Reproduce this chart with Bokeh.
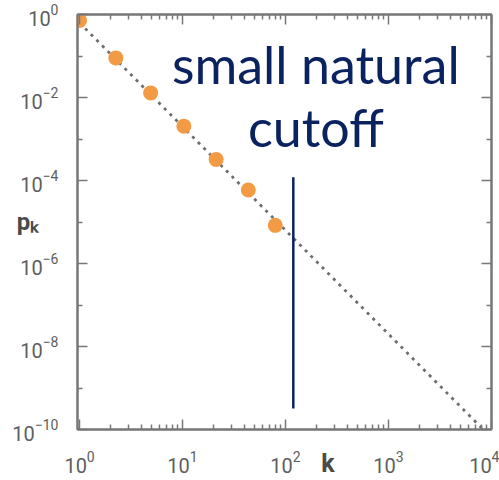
from bokeh.plotting import figure
from bokeh.models import FixedTicker, LogAxis, Label, CustomJSTickFormatter
from bokeh.embed import file_html
from bokeh.resources import INLINE

# binned degree distribution
k_vals = [1.0, 2.25, 4.9, 10.3, 21.2, 43.5, 79.5]
pk_vals = [0.72, 0.090, 0.0129, 0.00204, 0.00032, 0.000059, 0.0000083]

# power-law guide, p_k ~ k^-2.5
fit_k = [1.0, 10000.0]
fit_pk = [0.63, 6.3e-11]

# natural cutoff marker at k_max
cutoff_k = [119.0, 119.0]
cutoff_pk = [1.2e-4, 3.2e-10]

# ticks
x_major = [1, 10, 100, 1000, 10000]
x_minor = [m * 10 ** d for d in range(4) for m in range(2, 10)]
y_major = [1e-10, 1e-8, 1e-6, 1e-4, 1e-2, 1.0]
y_minor = [1e-9, 1e-7, 1e-5, 1e-3, 1e-1]

AXIS_GRAY = "#777777"
LABEL_GRAY = "#5e5e5e"
TITLE_GRAY = "#4a4a4a"
NAVY = "#0a225f"
ORANGE = "#f39a45"
NBSP = "\u00a0"

p = figure(
    width=499, height=480,
    x_axis_type="log", y_axis_type="log",
    x_range=(0.955, 10000), y_range=(1e-10, 1.0),
    output_backend="svg", toolbar_location=None,
    min_border_left=77, min_border_right=8,
    min_border_top=14, min_border_bottom=50,
)
p.grid.visible = False
p.outline_line_color = AXIS_GRAY
p.outline_line_width = 2
p.background_fill_color = "white"
p.border_fill_color = "white"

x_ticker = FixedTicker(ticks=x_major, minor_ticks=x_minor)
y_ticker = FixedTicker(ticks=y_major, minor_ticks=y_minor)
blank = CustomJSTickFormatter(code="return ''")


def style_axis(ax, labels=True):
    ax.axis_line_color = AXIS_GRAY
    ax.axis_line_width = 2
    ax.major_tick_line_color = AXIS_GRAY
    ax.minor_tick_line_color = AXIS_GRAY
    ax.major_tick_line_width = 1.5
    ax.minor_tick_line_width = 1.5
    ax.major_tick_out = 0
    ax.minor_tick_out = 0
    ax.major_tick_in = 10
    ax.minor_tick_in = 5
    if labels:
        ax.major_label_text_font = "Roboto"
        ax.major_label_text_font_size = "20px"
        ax.major_label_text_color = LABEL_GRAY
        ax.axis_label_text_font = "Roboto"
        ax.axis_label_text_font_style = "bold"
        ax.axis_label_text_color = TITLE_GRAY
    else:
        ax.formatter = blank
        ax.major_label_standoff = 0


# bottom axis: "k" sits in the tick-label row, right of centre
xa = p.xaxis[0]
xa.ticker = x_ticker
style_axis(xa)
xa.major_label_standoff = 21
xa.axis_label = NBSP * 14 + "k"
xa.axis_label_text_font_size = "25px"
xa.axis_label_standoff = -27

# left axis: horizontal "p_k" between the tick labels
ya = p.yaxis[0]
ya.ticker = y_ticker
style_axis(ya)
ya.major_label_standoff = 19
ya.axis_label = "p\u2096"
ya.axis_label_text_font_size = "24px"
ya.axis_label_orientation = "horizontal"
ya.axis_label_standoff = -29

top = LogAxis(ticker=x_ticker)
style_axis(top, labels=False)
p.add_layout(top, "above")

right = LogAxis(ticker=y_ticker)
style_axis(right, labels=False)
p.add_layout(right, "right")

# power-law guide
p.line(fit_k, fit_pk, line_color="#6e6e6e", line_width=2.8,
       line_dash="3 5", line_cap="butt")

# measured points
p.scatter(k_vals, pk_vals, size=15, fill_color=ORANGE, line_color=None)

# cutoff line
p.line(cutoff_k, cutoff_pk, line_color=NAVY, line_width=2.5)

# annotation text
note_k = 197.0
p.add_layout(Label(x=note_k, y=0.0234, y_offset=18, text="small natural",
                   text_align="center", text_baseline="alphabetic",
                   text_font="Lato", text_font_size="52px", text_color=NAVY))
p.add_layout(Label(x=note_k, y=7.1e-4, y_offset=18, text="cutoff",
                   text_align="center", text_baseline="alphabetic",
                   text_font="Lato", text_font_size="52px", text_color=NAVY))

open("out.html", "w").write(file_html(p, INLINE))
